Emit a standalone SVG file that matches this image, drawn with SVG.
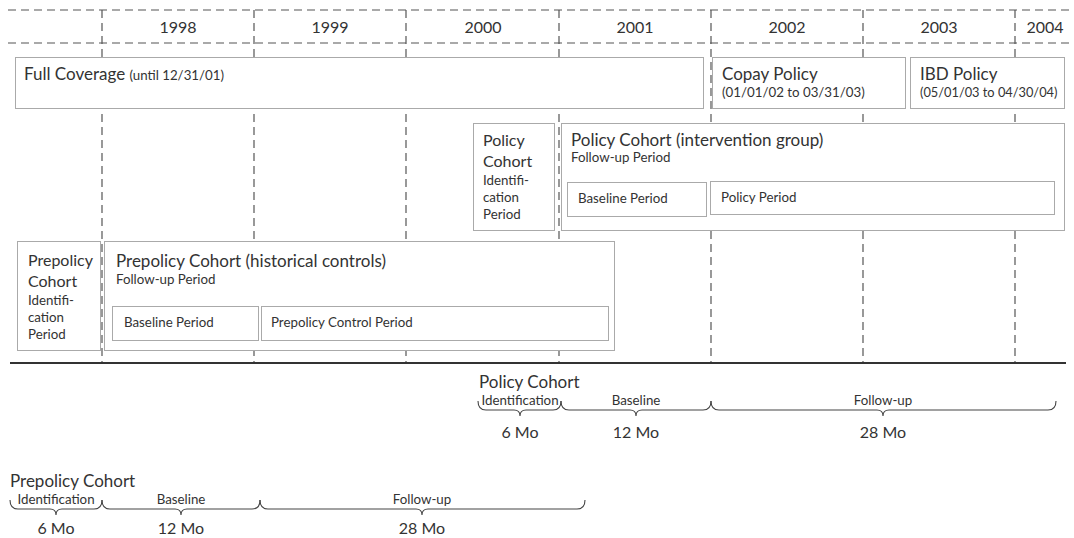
<svg xmlns="http://www.w3.org/2000/svg" width="1074" height="538" viewBox="0 0 1074 538">
<style>
text{font-family:Lato,"Open Sans","Liberation Sans",sans-serif;fill:#333}
.yr{font-size:16px;text-anchor:middle}
.t{font-size:17px}
.m{font-size:16px}
.s{font-size:13.3px}
.xs{font-size:12.8px}
.box{fill:#fff;stroke:#aaa;stroke-width:1}
.dash{stroke:#555;stroke-width:1.2;stroke-dasharray:8 5;fill:none}
.brace{fill:none;stroke:#444;stroke-width:1.1}
.c{text-anchor:middle}
</style>
<rect width="1074" height="538" fill="#fff"/>
<g id="grid">
<line class="dash" x1="8" y1="10" x2="1074" y2="10"/>
<line class="dash" x1="8" y1="43" x2="1074" y2="43"/>
<line class="dash" x1="102" y1="10" x2="102" y2="362"/>
<line class="dash" x1="254" y1="10" x2="254" y2="362"/>
<line class="dash" x1="406" y1="10" x2="406" y2="362"/>
<line class="dash" x1="559" y1="10" x2="559" y2="362"/>
<line class="dash" x1="711" y1="10" x2="711" y2="362"/>
<line class="dash" x1="863" y1="10" x2="863" y2="362"/>
<line class="dash" x1="1015" y1="10" x2="1015" y2="362"/>
<text class="yr" x="178" y="33">1998</text>
<text class="yr" x="330" y="33">1999</text>
<text class="yr" x="483" y="33">2000</text>
<text class="yr" x="635" y="33">2001</text>
<text class="yr" x="787" y="33">2002</text>
<text class="yr" x="939" y="33">2003</text>
<text class="yr" x="1045" y="33">2004</text>
</g>
<g id="full-coverage">
<rect class="box" x="15.5" y="57.5" width="688" height="51"/>
<text class="t" x="24" y="80">Full Coverage <tspan class="s">(until 12/31/01)</tspan></text>
</g>
<g id="copay-policy">
<rect class="box" x="712.5" y="57.5" width="193" height="51"/>
<text class="t" x="722" y="80">Copay Policy</text>
<text class="s" x="722" y="97">(01/01/02 to 03/31/03)</text>
</g>
<g id="ibd-policy">
<rect class="box" x="910.5" y="57.5" width="154" height="51"/>
<text class="t" x="920" y="80">IBD Policy</text>
<text class="xs" x="920" y="97">(05/01/03 to 04/30/04)</text>
</g>
<g id="policy-id">
<rect class="box" x="473.5" y="123.5" width="81" height="107"/>
<text class="m" x="483" y="146">Policy</text>
<text class="m" x="483" y="167">Cohort</text>
<text class="s" x="483" y="185">Identifi-</text>
<text class="s" x="483" y="202">cation</text>
<text class="s" x="483" y="219">Period</text>
</g>
<g id="policy-cohort">
<rect class="box" x="561.5" y="123.5" width="503" height="107"/>
<text class="t" x="571" y="146">Policy Cohort (intervention group)</text>
<text class="s" x="571" y="162">Follow-up Period</text>
</g>
<g id="policy-baseline">
<rect class="box" x="567.5" y="182.5" width="139" height="34"/>
<text class="s" x="578" y="203">Baseline Period</text>
</g>
<g id="policy-period">
<rect class="box" x="710.5" y="181.5" width="344" height="33"/>
<text class="s" x="721" y="202">Policy Period</text>
</g>
<g id="prepolicy-id">
<rect class="box" x="17.5" y="241.5" width="83" height="109"/>
<text class="m" x="28" y="266">Prepolicy</text>
<text class="m" x="28" y="287">Cohort</text>
<text class="s" x="28" y="305">Identifi-</text>
<text class="s" x="28" y="322">cation</text>
<text class="s" x="28" y="339">Period</text>
</g>
<g id="prepolicy-cohort">
<rect class="box" x="104.5" y="241.5" width="510" height="109"/>
<text class="t" x="116" y="267">Prepolicy Cohort (historical controls)</text>
<text class="s" x="116" y="284">Follow-up Period</text>
</g>
<g id="prepolicy-baseline">
<rect class="box" x="112.5" y="306.5" width="146" height="34"/>
<text class="s" x="124" y="327">Baseline Period</text>
</g>
<g id="prepolicy-control">
<rect class="box" x="261.5" y="306.5" width="347" height="34"/>
<text class="s" x="271" y="327">Prepolicy Control Period</text>
</g>
<line x1="10" y1="363" x2="1066" y2="363" stroke="#333" stroke-width="2"/>
<g id="policy-timeline">
<text class="t" x="479" y="388">Policy Cohort</text>
<text class="s c" x="520" y="405">Identification</text>
<text class="s c" x="636" y="405">Baseline</text>
<text class="s c" x="883" y="405">Follow-up</text>
<text class="m c" x="520" y="438">6 Mo</text>
<text class="m c" x="636" y="438">12 Mo</text>
<text class="m c" x="883" y="438">28 Mo</text>
</g>
<g id="prepolicy-timeline">
<text class="t" x="10" y="487">Prepolicy Cohort</text>
<text class="s c" x="56" y="504">Identification</text>
<text class="s c" x="181" y="504">Baseline</text>
<text class="s c" x="422" y="504">Follow-up</text>
<text class="m c" x="56" y="534">6 Mo</text>
<text class="m c" x="181" y="534">12 Mo</text>
<text class="m c" x="422" y="534">28 Mo</text>
</g>
<g id="braces">
<path class="brace" d="M478,401 Q478,410 486,410 L514,410 Q520,410 520,416 Q520,410 526,410 L553,410 Q561,410 561,401"/>
<path class="brace" d="M561,401 Q561,410 569,410 L630,410 Q636,410 636,416 Q636,410 642,410 L703,410 Q711,410 711,401"/>
<path class="brace" d="M711,401 Q711,410 719,410 L877,410 Q883,410 883,416 Q883,410 889,410 L1048,410 Q1056,410 1056,401"/>
<path class="brace" d="M10,500 Q10,509 18,509 L50,509 Q56,509 56,515 Q56,509 62,509 L94,509 Q102,509 102,500"/>
<path class="brace" d="M102,500 Q102,509 110,509 L175,509 Q181,509 181,515 Q181,509 187,509 L252,509 Q260,509 260,500"/>
<path class="brace" d="M260,500 Q260,509 268,509 L416,509 Q422,509 422,515 Q422,509 428,509 L577,509 Q585,509 585,500"/>
</g>
</svg>
